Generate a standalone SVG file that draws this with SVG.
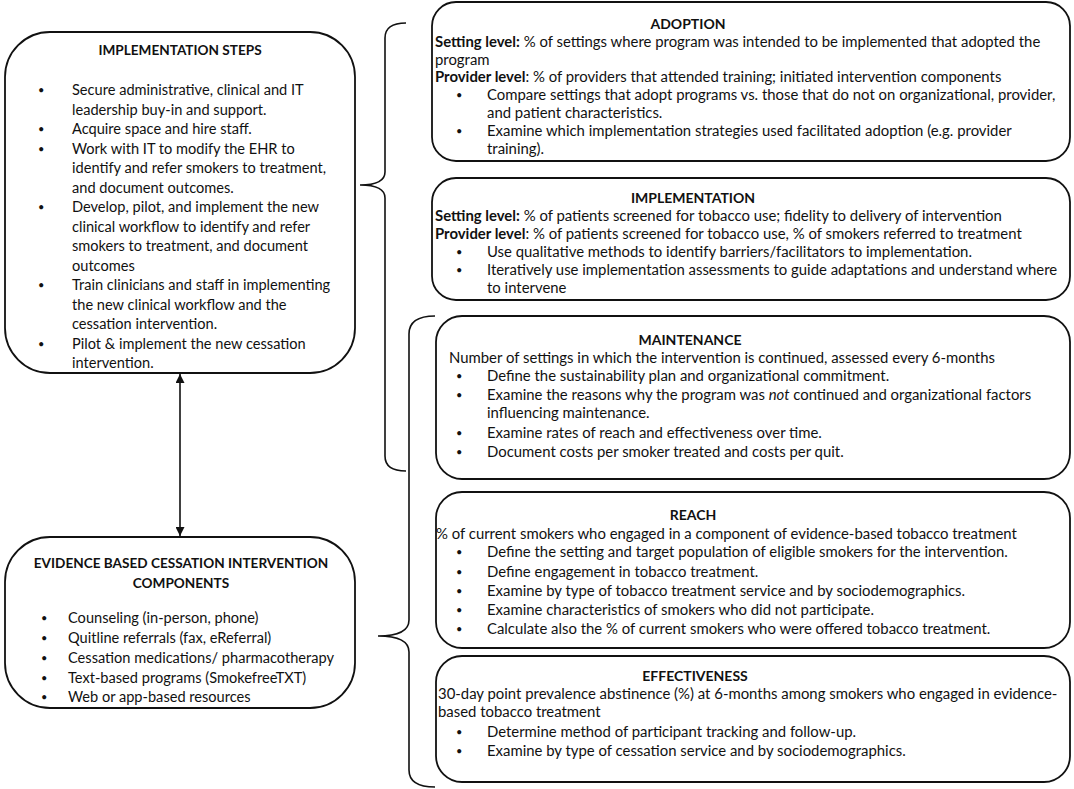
<svg xmlns="http://www.w3.org/2000/svg" width="1074" height="789" viewBox="0 0 1074 789">
<style>
text{font-family:"Lato","Liberation Sans",sans-serif;fill:#111;}
.box{fill:#fff;stroke:#111;stroke-width:1.8;}
.br{fill:none;stroke:#111;stroke-width:1.6;}
.lt{font-size:14.6px;}
.lh{font-size:13.6px;}
.rt{font-size:14.9px;}
.rh{font-size:14px;}
.h{font-weight:bold;text-anchor:middle;}
.b{font-weight:bold;}
.d{font-size:11px;}
</style>
<defs>
<marker id="ah" viewBox="0 0 10 10" refX="10" refY="5" markerWidth="9" markerHeight="9" markerUnits="userSpaceOnUse" orient="auto-start-reverse">
<path d="M0,0 L10,5 L0,10 z" fill="#111"/>
</marker>
</defs>
<rect width="1074" height="789" fill="#fff"/>

<g id="connectors">
<line x1="180" y1="374" x2="180" y2="536" stroke="#111" stroke-width="1.6" marker-start="url(#ah)" marker-end="url(#ah)"/>
<path class="br" d="M406,23 Q385,23 385,38 L385,172 Q385,185 360,185 Q385,185 385,198 L385,456 Q385,471 406,471"/>
<path class="br" d="M435,316 Q409,316 409,334 L409,620 Q409,636 378,636 Q409,636 409,652 L409,770 Q409,787 435,787"/>
</g>

<g id="implementation-steps">
<rect class="box" x="5" y="32" width="350" height="341" rx="45"/>
<text class="lh h" x="180" y="55">IMPLEMENTATION STEPS</text>
<g class="lt">
<text class="d" x="38" y="94">•</text><text x="72" y="95">Secure administrative, clinical and IT</text>
<text x="72" y="114.5">leadership buy-in and support.</text>
<text class="d" x="38" y="133">•</text><text x="72" y="134">Acquire space and hire staff.</text>
<text class="d" x="38" y="152.5">•</text><text x="72" y="153.5">Work with IT to modify the EHR to</text>
<text x="72" y="173">identify and refer  smokers to treatment,</text>
<text x="72" y="192.5">and document outcomes.</text>
<text class="d" x="38" y="211">•</text><text x="72" y="212">Develop, pilot, and implement the new</text>
<text x="72" y="231.5">clinical workflow to identify and refer</text>
<text x="72" y="251">smokers to treatment, and document</text>
<text x="72" y="270.5">outcomes</text>
<text class="d" x="38" y="289">•</text><text x="72" y="290">Train clinicians and staff in implementing</text>
<text x="72" y="309.5">the new clinical workflow and the</text>
<text x="72" y="329">cessation intervention.</text>
<text class="d" x="38" y="347.5">•</text><text x="72" y="348.5">Pilot &amp; implement the new cessation</text>
<text x="72" y="368">intervention.</text>
</g>
</g>

<g id="cessation-components">
<rect class="box" x="5" y="537" width="350" height="171" rx="45"/>
<text class="lh h" x="181" y="568">EVIDENCE BASED CESSATION INTERVENTION</text>
<text class="lh h" x="181" y="588">COMPONENTS</text>
<g class="lt">
<text class="d" x="41" y="622">•</text><text x="68" y="623">Counseling (in-person, phone)</text>
<text class="d" x="41" y="642">•</text><text x="68" y="643">Quitline referrals (fax, eReferral)</text>
<text class="d" x="41" y="662">•</text><text x="68" y="663">Cessation medications/ pharmacotherapy</text>
<text class="d" x="41" y="681.5">•</text><text x="68" y="682.5">Text-based programs (SmokefreeTXT)</text>
<text class="d" x="41" y="701">•</text><text x="68" y="702">Web or app-based resources</text>
</g>
</g>

<g id="adoption">
<rect class="box" x="432" y="2" width="638" height="159" rx="24"/>
<text class="rh h" x="688" y="29">ADOPTION</text>
<g class="rt">
<text x="435" y="47"><tspan class="b">Setting level:</tspan> % of settings where program was intended to be implemented that adopted the</text>
<text x="435" y="64.5">program</text>
<text x="435" y="82"><tspan class="b">Provider level</tspan>: % of providers  that attended training; initiated intervention components</text>
<text class="d" x="456" y="99">•</text><text x="487" y="100">Compare settings that adopt programs vs. those that do not on organizational, provider,</text>
<text x="487" y="117.5">and patient characteristics.</text>
<text class="d" x="456" y="135">•</text><text x="487" y="136">Examine which implementation strategies  used facilitated adoption (e.g. provider</text>
<text x="487" y="153.5">training).</text>
</g>
</g>

<g id="implementation">
<rect class="box" x="432" y="178" width="638" height="122" rx="24"/>
<text class="rh h" x="693" y="203">IMPLEMENTATION</text>
<g class="rt">
<text x="435" y="221"><tspan class="b">Setting level:</tspan> % of patients screened for tobacco use; fidelity to delivery of intervention</text>
<text x="435" y="238.5"><tspan class="b">Provider level</tspan>: % of patients screened for tobacco use, % of smokers referred  to treatment</text>
<text class="d" x="456" y="256">•</text><text x="487" y="257">Use qualitative methods to identify barriers/facilitators to implementation.</text>
<text class="d" x="456" y="274">•</text><text x="487" y="275">Iteratively use implementation assessments to guide adaptations and understand where</text>
<text x="487" y="292.5">to intervene</text>
</g>
</g>

<g id="maintenance">
<rect class="box" x="436" y="316" width="634" height="163" rx="26"/>
<text class="rh h" x="690" y="345">MAINTENANCE</text>
<g class="rt">
<text x="449" y="363">Number of settings in which the intervention is continued, assessed every 6-months</text>
<text class="d" x="456" y="380">•</text><text x="487" y="381">Define the sustainability plan and organizational commitment.</text>
<text class="d" x="456" y="399">•</text><text x="487" y="400">Examine the reasons why the program was <tspan font-style="italic">not</tspan> continued and organizational factors</text>
<text x="487" y="418">influencing maintenance.</text>
<text class="d" x="456" y="437">•</text><text x="487" y="438">Examine rates of reach and effectiveness  over time.</text>
<text class="d" x="456" y="456">•</text><text x="487" y="457">Document costs per smoker treated and costs per  quit.</text>
</g>
</g>

<g id="reach">
<rect class="box" x="436" y="492" width="634" height="156" rx="26"/>
<text class="rh h" x="693" y="520">REACH</text>
<g class="rt">
<text x="436" y="539">% of current  smokers who engaged in a component of evidence-based tobacco treatment</text>
<text class="d" x="456" y="556">•</text><text x="487" y="557">Define the setting and target population of eligible smokers for the intervention.</text>
<text class="d" x="456" y="575.5">•</text><text x="487" y="576.5">Define engagement in tobacco treatment.</text>
<text class="d" x="456" y="595">•</text><text x="487" y="596">Examine by type of tobacco treatment service   and by sociodemographics.</text>
<text class="d" x="456" y="614">•</text><text x="487" y="615">Examine characteristics of smokers who did not participate.</text>
<text class="d" x="456" y="633">•</text><text x="487" y="634">Calculate also the % of current smokers who were offered  tobacco treatment.</text>
</g>
</g>

<g id="effectiveness">
<rect class="box" x="436" y="656" width="634" height="126" rx="26"/>
<text class="rh h" x="695" y="681">EFFECTIVENESS</text>
<g class="rt">
<text x="438" y="699">30-day point prevalence abstinence (%) at 6-months among smokers who engaged in evidence-</text>
<text x="438" y="717">based tobacco treatment</text>
<text class="d" x="456" y="736">•</text><text x="487" y="737">Determine method of participant tracking and follow-up.</text>
<text class="d" x="456" y="755">•</text><text x="487" y="756">Examine by type of cessation service and by sociodemographics.</text>
</g>
</g>
</svg>
